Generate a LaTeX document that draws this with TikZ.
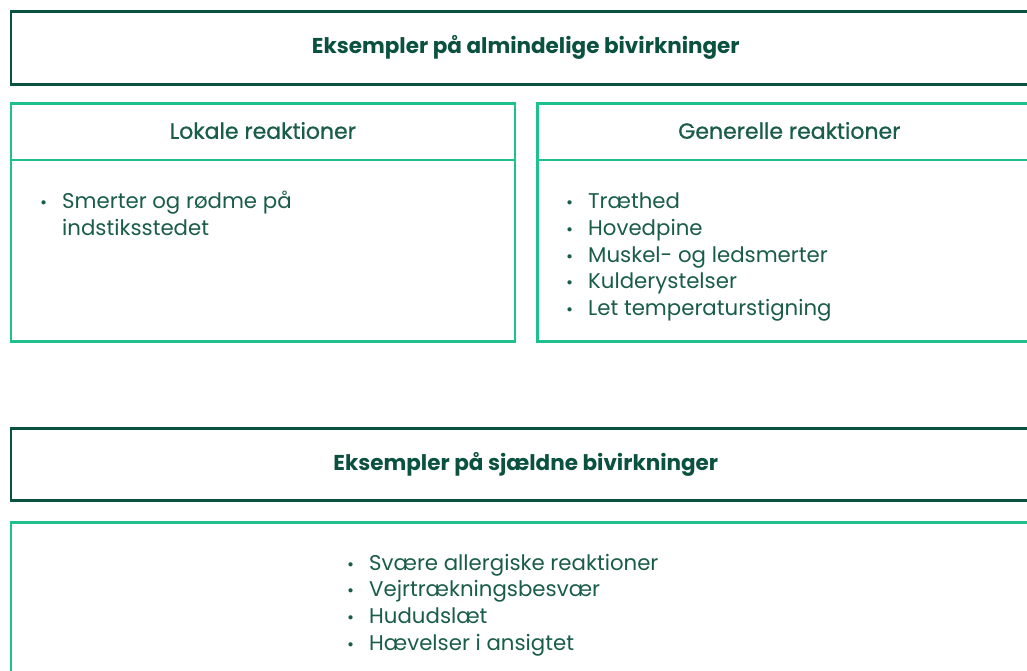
\documentclass[tikz,border=0pt]{standalone}
\usepackage{fontspec}
\setmainfont{Poppins}
\newfontfamily\headfont{Poppins}[FakeBold=0.9]
\usetikzlibrary{positioning}

\definecolor{darkgreen}{HTML}{0B5140}
\definecolor{mint}{HTML}{1FBF8E}
\definecolor{textgreen}{HTML}{1A5C4A}

\begin{document}
\begin{tikzpicture}[x=1pt,y=-1pt]
    \tikzstyle{titlebox} = [
      anchor=north west,
      draw=darkgreen,
      line width=2.6pt,
      minimum width=1030pt,
      minimum height=73pt,
      inner sep=0pt,
      text=darkgreen,
      font=\fontsize{21.5}{24}\selectfont\bfseries,
    ]
    \tikzstyle{groupbox} = [
      anchor=north west,
      draw=mint,
      line width=2.6pt,
      minimum width=504pt,
      minimum height=238pt,
      inner sep=0pt,
    ]
    \tikzstyle{divider} = [
      draw=mint,
      line width=2.6pt,
    ]
    \tikzstyle{head} = [
      anchor=center,
      text=textgreen,
      font=\fontsize{22}{24}\headfont,
    ]
    \tikzstyle{item} = [
      anchor=base west,
      inner sep=0pt,
      text=textgreen,
      font=\fontsize{21.3}{24}\selectfont,
    ]

    \newcommand{\bul}[0]{\makebox[22pt][l]{\scalebox{0.8}{\textbullet}}}
    \newcommand{\rowskip}[0]{26.8pt}
    \newcommand{\boxheaddepth}[0]{58pt}

    \useasboundingbox (0,0) rectangle (1027,671);
    \clip (0,0) rectangle (1027,671);

    \coordinate (commonAnchor) at (9.5,10);
    \coordinate (localAnchor) at (9.5,102);
    \coordinate (generalAnchor) at (536,102);
    \coordinate (rareAnchor) at (9.5,427);

    % common title
    {
      \node[titlebox] (commonTitle) at (commonAnchor) {Eksempler på almindelige bivirkninger};
    }

    % local box
    {
      \node[groupbox] (localBox) at (localAnchor) {};
      \draw[divider] ([yshift=-\boxheaddepth] localBox.north west) -- ([yshift=-\boxheaddepth] localBox.north east);
      \node[head] (localHead) at ([yshift=-28.5pt] localBox.north) {Lokale reaktioner};
      \node[item] (localI)  at ([xshift=30.5pt, yshift=-106.5pt] localBox.north west) {\bul Smerter og rødme på};
      \node[item] (localIb) at ([yshift=-\rowskip] localI.base west) {\hspace*{22pt}indstiksstedet};
    }

    % general box
    {
      \node[groupbox] (generalBox) at (generalAnchor) {};
      \draw[divider] ([yshift=-\boxheaddepth] generalBox.north west) -- ([yshift=-\boxheaddepth] generalBox.north east);
      \node[head] (generalHead) at ([yshift=-28.5pt] generalBox.north) {Generelle reaktioner};
      \node[item] (generalI)   at ([xshift=30pt, yshift=-106.5pt] generalBox.north west) {\bul Træthed};
      \node[item] (generalII)  at ([yshift=-\rowskip] generalI.base west) {\bul Hovedpine};
      \node[item] (generalIII) at ([yshift=-\rowskip] generalII.base west) {\bul Muskel- og ledsmerter};
      \node[item] (generalIV)  at ([yshift=-\rowskip] generalIII.base west) {\bul Kulderystelser};
      \node[item] (generalV)   at ([yshift=-\rowskip] generalIV.base west) {\bul Let temperaturstigning};
    }

    % rare title
    {
      \node[titlebox, minimum height=72pt] (rareTitle) at (rareAnchor) {Eksempler på sjældne bivirkninger};
    }

    % rare box
    {
      \node[groupbox, minimum width=1030pt, minimum height=240pt] (rareBox) at ([yshift=-94pt] rareTitle.north west) {};
      \node[item] (rareI)   at ([xshift=337.5pt, yshift=-49pt] rareBox.north west) {\bul Svære allergiske reaktioner};
      \node[item] (rareII)  at ([yshift=-\rowskip] rareI.base west) {\bul Vejrtrækningsbesvær};
      \node[item] (rareIII) at ([yshift=-\rowskip] rareII.base west) {\bul Hududslæt};
      \node[item] (rareIV)  at ([yshift=-\rowskip] rareIII.base west) {\bul Hævelser i ansigtet};
    }
  \end{tikzpicture}
\end{document}
